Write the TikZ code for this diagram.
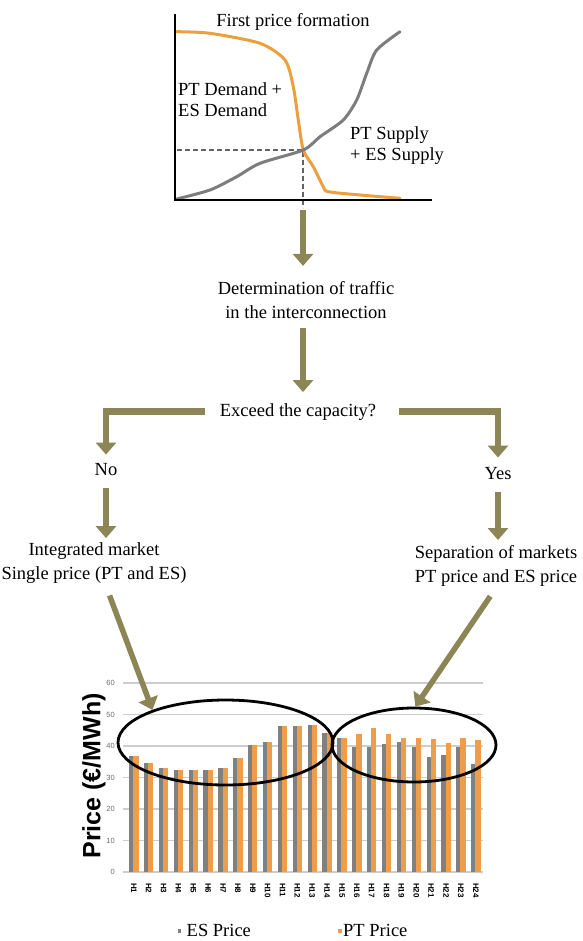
\documentclass[tikz,border=0pt]{standalone}
\usepackage{fontspec}
\setmainfont{Liberation Serif}
\newfontfamily\sansf{Liberation Sans}
\usetikzlibrary{arrows.meta,shapes.geometric}
\definecolor{flowolive}{RGB}{140,134,86}
\definecolor{barorange}{RGB}{238,158,74}
\definecolor{bargray}{RGB}{128,128,128}
\definecolor{lineorange}{RGB}{234,160,62}
\definecolor{linegray}{RGB}{125,125,125}
\definecolor{gridgray}{RGB}{205,205,205}
\definecolor{ticktext}{RGB}{110,110,110}
\begin{document}
\begin{tikzpicture}[x=1pt,y=-1pt,
  flow/.style={draw=flowolive, line width=6.5pt, -{Triangle[width=20pt,length=12pt]}},
  txt/.style={font=\fontsize{18.5}{24}\selectfont, inner sep=0pt, align=center},
  lbl/.style={font=\fontsize{18.5}{20.5}\selectfont, inner sep=0pt, align=left},
  ring/.style={draw=black, line width=2.8pt, ellipse, inner sep=0pt},
  hlab/.style={font=\sansf\bfseries\fontsize{8}{9}\selectfont, rotate=-90, anchor=west, inner sep=0pt},
  ticklab/.style={font=\sansf\fontsize{7.5}{9}\selectfont, text=ticktext, anchor=east, inner sep=0pt}
]
\fill[white] (0,0) rectangle (582,941);
\useasboundingbox (0,0) rectangle (582,941);

% ---- top chart
\draw[linegray!80!black, line width=1.3pt, dash pattern=on 5pt off 3pt] (177,150) -- (303,150) -- (303,208);
\draw[lineorange, line width=3pt, line join=round, line cap=round] plot[smooth, tension=0.45] coordinates {(176.7,31.7) (210,33.3) (260,43.3) (285,60) (293.3,86.7) (298.3,120) (303.3,150) (313.3,166.7) (323.3,186.7) (328.3,191.7) (360,195) (400,198.3)};
\draw[linegray, line width=3pt, line join=round, line cap=round] plot[smooth, tension=0.45] coordinates {(176.7,199) (210,190) (236.7,176.7) (260,163.3) (303.3,150) (320,136.7) (343.3,120) (356.7,100) (366.7,73.3) (376.7,50) (400,31.7)};
\draw[line width=2.5pt] (175,14) -- (175,200) -- (432,200);
\node[txt, anchor=base] (title) at (293,27) {First price formation};
\node[lbl, anchor=north west] (dem) at (178,82.8) {PT Demand +\\ES Demand};
\node[lbl, anchor=north west] (sup) at (350,126.8) {PT Supply\\+ ES Supply};
\coordinate (chartbot) at (303,210);

% ---- flow texts
\node[txt] (det) at (306,299.7) {Determination of traffic\\in the interconnection};
\node[txt] (exc) at (298,411.7) {Exceed the capacity?};
\node[txt] (no) at (106,469.9) {No};
\node[txt] (yes) at (498,473.9) {Yes};
\node[txt] (integ) at (94,562.7) {Integrated market\\Single price (PT and ES)};
\node[txt] (sep) at (496,565.7) {Separation of markets\\PT price and ES price};

% ---- bar chart
\foreach \k in {0,...,6} {
  \draw[gridgray, line width=1.1pt] (123,{872-31.5*\k}) -- (483,{872-31.5*\k});
  \node[ticklab] (t\k) at (115,{872-31.5*\k}) {\the\numexpr\k*10\relax};
}
\foreach \i/\g/\o in {1/36.8/36.8, 2/34.5/34.5, 3/32.9/32.9, 4/32.4/32.4, 5/32.4/32.4, 6/32.4/32.4, 7/32.9/32.9, 8/36.1/36.1, 9/40.3/40.3, 10/41.4/41.4, 11/46.3/46.3, 12/46.3/46.3, 13/46.7/46.7, 14/44.0/44.0, 15/42.6/42.6, 16/39.8/43.7, 17/39.8/45.6, 18/40.5/43.7, 19/41.4/42.4, 20/39.6/42.6, 21/36.4/42.3, 22/37.1/41.0, 23/39.8/42.6, 24/34.3/41.9} {
  \pgfmathsetmacro\cx{133.3+14.87*(\i-1)}
  \fill[bargray] ({\cx-4.2},872) rectangle ({\cx},{872-3.15*\g});
  \fill[barorange] ({\cx},872) rectangle ({\cx+5.2},{872-3.15*\o});
  \node[hlab] (h\i) at ({\cx+0.5},883) {H\i};
}
\node[font=\sansf\bfseries\fontsize{25}{28}\selectfont, rotate=90, inner sep=0pt] (ytitle) at (94,776) {Price (€/MWh)};
\node[ring, minimum width=215pt, minimum height=85pt] (ellL) at (225.5,742.5) {};
\node[ring, minimum width=164pt, minimum height=74pt] (ellR) at (414,745) {};

% legend
\fill[bargray] (177.5,928.5) rectangle (181,933);
\node[font=\fontsize{18.5}{20}\selectfont, anchor=base west, inner sep=0pt] (lgES) at (186.5,936) {ES Price};
\fill[barorange] (338,928.5) rectangle (342,933);
\node[font=\fontsize{18.5}{20}\selectfont, anchor=base west, inner sep=0pt] (lgPT) at (343,936) {PT Price};

% ---- connectors
\draw[flow, shorten >=15pt] (chartbot) -- (chartbot |- det.north);
\draw[flow, shorten <=9pt, shorten >=11pt] (det.south -| chartbot) -- (exc.north -| chartbot);
\draw[flow, shorten >=9pt] ([xshift=-15pt]exc.west) -| (no.north);
\draw[flow, shorten >=10pt] ([xshift=23pt]exc.east) -| (yes.north);
\draw[flow, shorten <=12pt, shorten >=4pt] (no.south) -- (no.south |- integ.north);
\draw[flow, shorten <=12pt, shorten >=5pt] (yes.south) -- (yes.south |- sep.north);
\draw[flow, line width=5.5pt, shorten <=13pt] ([xshift=11pt]integ.south) -- (ellL.156);
\draw[flow, line width=5.5pt, shorten <=12pt] ([xshift=1pt]sep.south) -- (ellR.88);
\end{tikzpicture}
\end{document}
